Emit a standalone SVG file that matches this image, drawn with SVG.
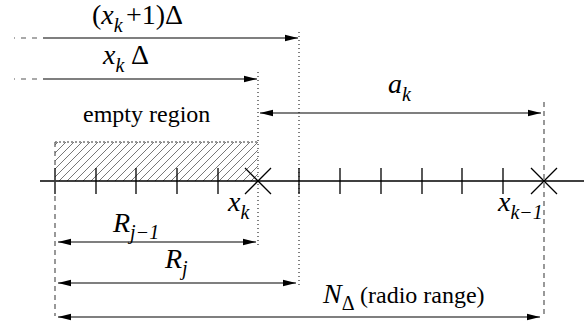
<svg xmlns="http://www.w3.org/2000/svg" width="586" height="325" viewBox="0 0 586 325">
<style>
.ln{stroke:#000;stroke-width:1.2;fill:none}
.ax{stroke:#000;stroke-width:1.3;fill:none}
.dsh{stroke:#555;stroke-width:1.2;stroke-dasharray:5 6;fill:none}
.vd{stroke:#555;stroke-width:1.2;stroke-dasharray:5 4;fill:none}
.dot{stroke:#000;stroke-width:1;stroke-dasharray:1 3;fill:none}
.m{font-family:'Liberation Serif','DejaVu Serif',serif;font-size:28px;font-style:italic;fill:#000}
.r{font-style:normal}
.s{font-size:20px}
.t{font-family:'Liberation Serif','DejaVu Serif',serif;font-size:24px;font-style:normal;fill:#000}
</style>
<defs>
<marker id="ah" markerWidth="13" markerHeight="8" refX="13" refY="4" orient="auto-start-reverse" markerUnits="userSpaceOnUse">
<path d="M0,0.8 L13,4 L0,7.2 Z" fill="#000"/>
</marker>
<pattern id="hatch" patternUnits="userSpaceOnUse" width="8" height="8">
<path d="M-2,2 L2,-2 M0,8 L8,0 M6,10 L10,6" stroke="#555" stroke-width="0.8"/>
</pattern>
</defs>

<g id="empty-region">
<rect x="55" y="142" width="203" height="39" fill="url(#hatch)"/>
<line x1="55" y1="142" x2="258" y2="142" stroke="#333" stroke-width="1" stroke-dasharray="2 2"/>
<text class="t" x="83" y="122">empty region</text>
</g>

<g id="axis">
<line class="ax" x1="40" y1="181" x2="584" y2="181"/>
<path class="ax" d="M55,168V194M96,168V194M136,168V194M177,168V194M218,168V194M299,168V194M340,168V194M381,168V194M422,168V194M462,168V194M503,168V194"/>
</g>

<g id="node-xk">
<path class="ax" d="M245,168L271,194M245,194L271,168"/>
<text class="m" x="228" y="211">x<tspan class="s" dy="8">k</tspan></text>
</g>

<g id="node-xk-1">
<path class="ax" d="M531,168L557,194M531,194L557,168"/>
<text class="m" x="498" y="211">x<tspan class="s" dy="8">k−1</tspan></text>
</g>

<g id="guides">
<line class="dot" x1="258" y1="72" x2="258" y2="245"/>
<line class="dot" x1="299" y1="32" x2="299" y2="288"/>
<line class="vd" x1="55" y1="142" x2="55" y2="316"/>
<line class="vd" x1="544" y1="102" x2="544" y2="316"/>
</g>

<g id="connectors">
<line class="dsh" x1="37" y1="38" x2="14" y2="38"/>
<line class="ln" x1="43" y1="38" x2="298" y2="38" marker-end="url(#ah)"/>
<line class="dsh" x1="37" y1="79" x2="14" y2="79"/>
<line class="ln" x1="43" y1="79" x2="257" y2="79" marker-end="url(#ah)"/>
<line class="ln" x1="260" y1="113" x2="541" y2="113" marker-start="url(#ah)" marker-end="url(#ah)"/>
<line class="ln" x1="58" y1="242" x2="256" y2="242" marker-start="url(#ah)" marker-end="url(#ah)"/>
<line class="ln" x1="58" y1="283" x2="296" y2="283" marker-start="url(#ah)" marker-end="url(#ah)"/>
<line class="ln" x1="58" y1="317" x2="540" y2="317" marker-start="url(#ah)" marker-end="url(#ah)"/>
</g>

<g id="labels">
<text class="m" x="92" y="24"><tspan class="r">(</tspan>x<tspan class="s" dy="8">k</tspan><tspan class="r" x="126" dy="-8">+1)Δ</tspan></text>
<text class="m" x="103" y="64">x<tspan class="s" dy="8">k</tspan><tspan class="r" x="131" dy="-8">Δ</tspan></text>
<text class="m" x="388" y="93">a<tspan class="s" dy="8">k</tspan></text>
<text class="m" x="113" y="232">R<tspan class="s" dy="7">j−1</tspan></text>
<text class="m" x="165" y="268">R<tspan class="s" dy="7">j</tspan></text>
<text class="m" x="323" y="303">N<tspan class="s r" dy="7">Δ</tspan><tspan class="t" x="360" dy="-7">(radio range)</tspan></text>
</g>
</svg>
